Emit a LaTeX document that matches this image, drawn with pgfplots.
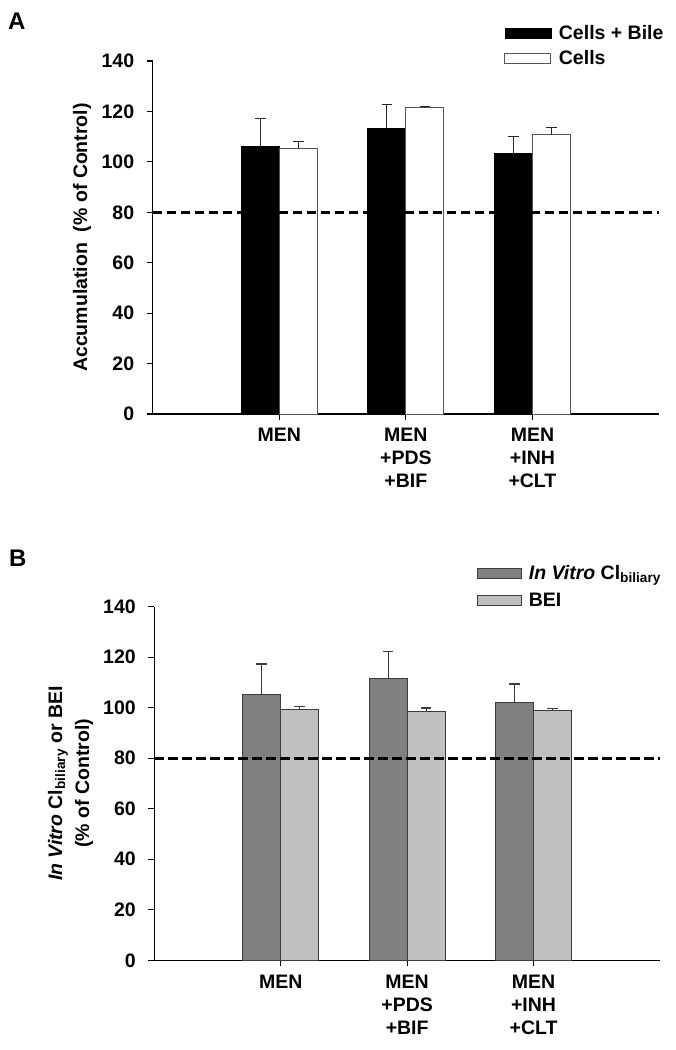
\documentclass[border=0pt]{standalone}
\usepackage{fontspec}
\setmainfont{Liberation Sans}
\usepackage{pgfplots}
\usepackage{pgfplotstable}
\pgfplotsset{compat=1.18}
\newcommand\myfont{\fontsize{19.5bp}{23bp}\selectfont\bfseries}

% x positions are the bar centres (group at 1,2,3; bars 0.3 wide on either side)
\pgfplotstableread{
x y e
0.85 106.0 11.2
1.85 113.4 9.3
2.85 103.3 6.7
}\cellsbile
\pgfplotstableread{
x y e
1.15 105.4 2.8
2.15 121.4 0.5
3.15 110.7 2.9
}\cells
\pgfplotstableread{
x y e
0.85 105.3 12.0
1.85 111.6 10.6
2.85 102.0 7.4
}\invitro
\pgfplotstableread{
x y e
1.15 99.4 1.0
2.15 98.6 1.3
3.15 98.8 0.8
}\bei

\definecolor{darkbar}{HTML}{808080}
\definecolor{lightbar}{HTML}{C0C0C0}
\definecolor{edgeB}{HTML}{3C3C3C}
\definecolor{edgeW}{HTML}{555555}

\pgfplotsset{
  panel/.style={
    scale only axis,
    xmin=0, xmax=4, ymin=0, ymax=140,
    axis x line=bottom, axis y line=left,
    axis line style={-, line width=1.1bp, black},
    xtick={1,2,3},
    xticklabels={MEN,{MEN\\+PDS\\+BIF},{MEN\\+INH\\+CLT}},
    ytick={0,20,...,140},
    tick align=outside, major tick length=6bp,
    tick style={line width=1.1bp, black},
    yticklabel style={font=\myfont, xshift=-9bp},
    xticklabel style={font=\myfont, align=center, yshift=-5bp},
    /pgf/number format/assume math mode=true,
    label style={font=\myfont},
    clip=false,
    legend style={draw=none, fill=none, font=\myfont, row sep=6bp,
      inner sep=0pt, cells={anchor=west}, anchor=north west},
  },
  ebar/.style={error bars/.cd, y dir=plus, y explicit,
    error bar style={line width=1.1bp, #1},
    error mark options={rotate=90, mark size=5.3bp, line width=1.1bp, #1}},
}

\begin{document}
\begin{tikzpicture}
\useasboundingbox (0,0) rectangle (676bp,-1050bp);

% Panel A
\begin{axis}[panel,
  at={(152.7bp,-414bp)}, anchor=south west,
  width=506.3bp, height=353bp,
  ylabel={Accumulation\ \ (\% of Control)},
  ylabel style={at={(axis description cs:-0.1396,0.5)}, anchor=center},
  legend style={at={(axis description cs:0.694,1.108)}},
]
\addlegendimage{legend image code/.code={\draw[fill=black, draw=black] (0bp,-5bp) rectangle (46bp,5bp); \path (52bp,0bp);}}
\addlegendentry{Cells + Bile}
\addlegendimage{legend image code/.code={\draw[fill=white, draw=edgeW, line width=0.9bp] (0bp,-5bp) rectangle (46bp,5bp); \path (52bp,0bp);}}
\addlegendentry{Cells}
\addplot[ybar, bar width=0.3, bar shift=0, fill=black, draw=black, line width=0.8bp, forget plot, ebar={draw=black!85}]
  table[x=x, y=y, y error=e] {\cellsbile};
\addplot[ybar, bar width=0.3, bar shift=0, fill=white, draw=edgeW, line width=0.9bp, forget plot, ebar={draw=black!85}]
  table[x=x, y=y, y error=e] {\cells};
\addplot[forget plot, black, line width=2.6bp, dash pattern=on 9.5bp off 4.5bp]
  coordinates {(0,80) (4,80)};
\end{axis}

% Panel B
\begin{axis}[panel,
  at={(154.3bp,-960.3bp)}, anchor=south west,
  width=505.7bp, height=353.6bp,
  ylabel={\textit{In Vitro} Cl\textsubscript{biliary} or BEI\\[4bp](\% of Control)},
  ylabel style={at={(axis description cs:-0.1657,0.5)}, anchor=center, align=center},
  legend style={at={(axis description cs:0.638,1.122)}, row sep=8bp},
]
\addlegendimage{legend image code/.code={\draw[fill=darkbar, draw=edgeB, line width=1bp] (0bp,-5bp) rectangle (44bp,5bp); \path (49bp,0bp);}}
\addlegendentry{\textit{In Vitro} Cl\textsubscript{biliary}}
\addlegendimage{legend image code/.code={\draw[fill=lightbar, draw=edgeB, line width=1bp] (0bp,-5bp) rectangle (44bp,5bp); \path (49bp,0bp);}}
\addlegendentry{BEI}
\addplot[ybar, bar width=0.3, bar shift=0, fill=darkbar, draw=edgeB, line width=1bp, forget plot, ebar={draw=edgeB}]
  table[x=x, y=y, y error=e] {\invitro};
\addplot[ybar, bar width=0.3, bar shift=0, fill=lightbar, draw=edgeB, line width=1bp, forget plot, ebar={draw=edgeB}]
  table[x=x, y=y, y error=e] {\bei};
\addplot[forget plot, black, line width=2.6bp, dash pattern=on 9.5bp off 4.5bp]
  coordinates {(0,80) (4,80)};
\end{axis}

\node[font=\fontsize{24bp}{26bp}\selectfont\bfseries, anchor=base west, inner sep=0pt] at (8bp,-29.5bp) {A};
\node[font=\fontsize{24bp}{26bp}\selectfont\bfseries, anchor=base west, inner sep=0pt] at (9bp,-566bp) {B};
\end{tikzpicture}
\end{document}
